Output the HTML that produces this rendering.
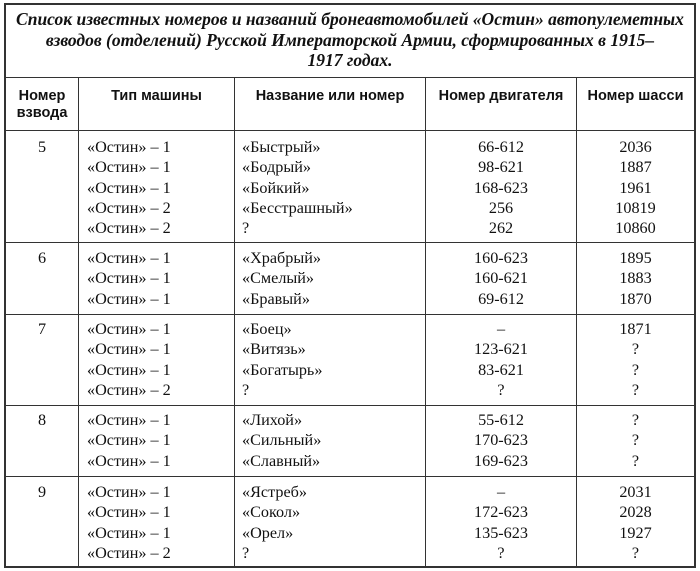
<!DOCTYPE html>
<html><head><meta charset="utf-8"><style>
body{margin:0;width:700px;height:571px;background:#fff;position:relative;overflow:hidden;font-family:"Liberation Serif",serif;color:#111}
.l{position:absolute;background:#333}
.t{position:absolute;font-size:16.2px;line-height:20.3px;white-space:pre}
.c{text-align:center}
.h{position:absolute;font-family:"Liberation Sans",sans-serif;font-weight:bold;font-size:14.5px;line-height:17px;text-align:center}
.ti{position:absolute;left:4px;width:692px;text-align:center;font-weight:bold;font-style:italic;font-size:17.5px;line-height:20.5px;top:9px}
</style></head><body>
<div class="l" style="left:4px;top:3px;width:692px;height:2px"></div>
<div class="l" style="left:4px;top:566px;width:692px;height:2px"></div>
<div class="l" style="left:4px;top:3px;width:2px;height:565px"></div>
<div class="l" style="left:694px;top:3px;width:2px;height:565px"></div>
<div class="l" style="left:4px;top:77px;width:692px;height:1px"></div>
<div class="l" style="left:4px;top:130px;width:692px;height:1px"></div>
<div class="l" style="left:4px;top:242px;width:692px;height:1px"></div>
<div class="l" style="left:4px;top:314px;width:692px;height:1px"></div>
<div class="l" style="left:4px;top:405px;width:692px;height:1px"></div>
<div class="l" style="left:4px;top:476px;width:692px;height:1px"></div>
<div class="l" style="left:78px;top:77px;width:1px;height:490px"></div>
<div class="l" style="left:234px;top:77px;width:1px;height:490px"></div>
<div class="l" style="left:425px;top:77px;width:1px;height:490px"></div>
<div class="l" style="left:576px;top:77px;width:1px;height:490px"></div>
<div class="ti">Список известных номеров и названий бронеавтомобилей «Остин» автопулеметных<br>взводов (отделений) Русской Императорской Армии, сформированных в 1915–<br>1917 годах.</div>
<div class="h" style="left:6px;width:72px;top:88px">Номер<br>взвода</div>
<div class="h" style="left:79px;width:155px;top:88px">Тип машины</div>
<div class="h" style="left:235px;width:190px;top:88px">Название или номер</div>
<div class="h" style="left:426px;width:150px;top:88px">Номер двигателя</div>
<div class="h" style="left:577px;width:117px;top:88px">Номер шасси</div>

<div class="t c" style="left:6px;width:72px;top:137px">5</div>
<div class="t" style="left:87px;top:137px">«Остин» – 1
«Остин» – 1
«Остин» – 1
«Остин» – 2
«Остин» – 2</div>
<div class="t" style="left:242px;top:137px">«Быстрый»
«Бодрый»
«Бойкий»
«Бесстрашный»
?</div>
<div class="t c" style="left:426px;width:150px;top:137px">66-612
98-621
168-623
256
262</div>
<div class="t c" style="left:577px;width:117px;top:137px">2036
1887
1961
10819
10860</div>

<div class="t c" style="left:6px;width:72px;top:248px">6</div>
<div class="t" style="left:87px;top:248px">«Остин» – 1
«Остин» – 1
«Остин» – 1</div>
<div class="t" style="left:242px;top:248px">«Храбрый»
«Смелый»
«Бравый»</div>
<div class="t c" style="left:426px;width:150px;top:248px">160-623
160-621
69-612</div>
<div class="t c" style="left:577px;width:117px;top:248px">1895
1883
1870</div>

<div class="t c" style="left:6px;width:72px;top:319px">7</div>
<div class="t" style="left:87px;top:319px">«Остин» – 1
«Остин» – 1
«Остин» – 1
«Остин» – 2</div>
<div class="t" style="left:242px;top:319px">«Боец»
«Витязь»
«Богатырь»
?</div>
<div class="t c" style="left:426px;width:150px;top:319px">–
123-621
83-621
?</div>
<div class="t c" style="left:577px;width:117px;top:319px">1871
?
?
?</div>

<div class="t c" style="left:6px;width:72px;top:410px">8</div>
<div class="t" style="left:87px;top:410px">«Остин» – 1
«Остин» – 1
«Остин» – 1</div>
<div class="t" style="left:242px;top:410px">«Лихой»
«Сильный»
«Славный»</div>
<div class="t c" style="left:426px;width:150px;top:410px">55-612
170-623
169-623</div>
<div class="t c" style="left:577px;width:117px;top:410px">?
?
?</div>

<div class="t c" style="left:6px;width:72px;top:482px">9</div>
<div class="t" style="left:87px;top:482px">«Остин» – 1
«Остин» – 1
«Остин» – 1
«Остин» – 2</div>
<div class="t" style="left:242px;top:482px">«Ястреб»
«Сокол»
«Орел»
?</div>
<div class="t c" style="left:426px;width:150px;top:482px">–
172-623
135-623
?</div>
<div class="t c" style="left:577px;width:117px;top:482px">2031
2028
1927
?</div>
</body></html>
